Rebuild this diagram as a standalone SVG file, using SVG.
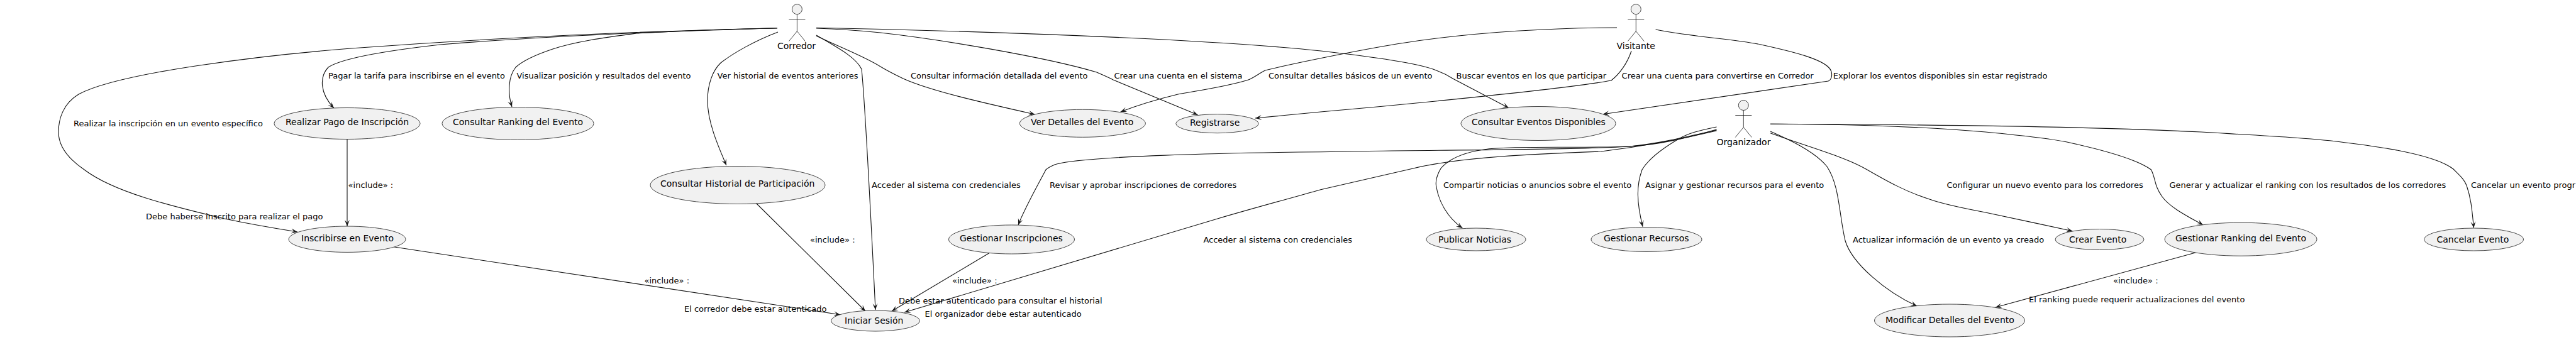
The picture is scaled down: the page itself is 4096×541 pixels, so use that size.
<svg xmlns="http://www.w3.org/2000/svg" width="4096" height="541" viewBox="0 0 4096 541">
<style>
text{font-family:"DejaVu Sans",sans-serif;fill:#000}
.n{font-size:14px}
.l{font-size:13px}
ellipse,.h{fill:#F1F1F1;stroke:#181818;stroke-width:.8}
.a{fill:none;stroke:#181818;stroke-width:.8}
#edges path{fill:none;stroke:#111;stroke-width:1.1;marker-end:url(#arr)}
</style>
<defs>
<marker id="arr" markerUnits="userSpaceOnUse" viewBox="-11 -5 12 10" refX="0" refY="0" markerWidth="12" markerHeight="10" orient="auto"><path d="M0,0L-10,-4L-5.5,0L-10,4Z" fill="#181818"/></marker>
<g id="stick"><circle class="h" cx="0" cy="0" r="8"/><path class="a" d="M0,8V35M-13,16H13M0,35L-13,51M0,35L13,51"/></g>
</defs>
<rect width="4096" height="541" fill="#fff"/>
<g id="edges">
<path d="M1236,44.7C1000,50 760,62 558,77C420,88 190,115 125,150C100,165 93,190 93,210C93,235 112,255 134,270C180,305 268,327 357,348C395,356 435,363 473,369"/>
<path d="M1236,44.7C1050,50 860,58 700,71C620,80 545,92 522,107C508,122 508,148 531,172"/>
<path d="M1236,44.7C1160,46 1100,48 1012,53C960,60 915,66 879,78C855,86 832,96 820,107C808,122 807,148 814,170"/>
<path d="M1237,51C1200,65 1165,85 1146,100C1133,112 1125,135 1125,160C1125,195 1143,235 1155,263"/>
<path d="M1298,56C1330,75 1360,90 1370,110C1376,170 1385,350 1392,493"/>
<path d="M1298,57C1335,75 1375,90 1400,106C1415,115 1422,118 1436,125C1480,145 1570,165 1645.5,182"/>
<path d="M1298,45C1330,46 1360,48 1400,52C1490,62 1660,90 1744,115C1755,120 1760,122 1770,127L1904.5,182.7"/>
<path d="M1298,44.3C1500,48 1900,60 2100,81C2180,90 2250,100 2278.6,110C2290,115 2295,115 2310,125L2399,171.7"/>
<path d="M2571,44C2480,44 2350,50 2234,68C2180,76 2060,100 2011.6,112C2000,118 1995,123 1985,127C1950,138 1900,145 1873,150C1840,158 1810,167 1781.7,178"/>
<path d="M2594,81C2588,100 2575,118 2562,128C2500,140 2250,165 2100,178L1996,188"/>
<path d="M2632.6,47C2700,60 2760,62 2800,71C2850,82 2905,95 2911.6,113C2914,120 2912,127 2907,129L2548.7,181.7"/>
<path d="M2729.5,207C2680,218 2640,228 2591,233C2480,240 2250,238 2100,241.7C1960,243 1720,248 1677,262C1668,266 1665,268 1663,270C1650,295 1630,330 1619,358"/>
<path d="M2729.5,208C2680,220 2620,232 2546,241C2440,245 2320,250 2247,268L2100,301.7C2050,316 1990,332 1936,348L1438,497"/>
<path d="M2729.5,206C2680,220 2640,230 2591,233C2520,236 2420,232 2368,236.7C2340,240 2308,248 2291,268C2284,280 2282,290 2284,298C2288,320 2300,345 2325.4,363"/>
<path d="M2729.5,202C2700,208 2685,212 2671,220C2640,238 2620,255 2611,270C2602,295 2602,320 2612,360.7"/>
<path d="M2815,209C2840,220 2885,240 2905,265C2925,295 2924,340 2934,383C2945,420 3000,465 3048,487"/>
<path d="M2815,211.7C2870,232 2930,248 2967,269C3000,288 3030,305 3068,317C3090,325 3120,331 3157,338C3200,347 3250,358 3295.5,367.7"/>
<path d="M2815,197.3C2900,197 3040,200 3157,210C3210,215 3260,220 3291,227C3350,240 3400,255 3420.5,270C3428,285 3425,295 3438,313C3450,330 3480,345 3503,358"/>
<path d="M2815,197.3C3000,198 3300,200 3500,210C3600,216 3680,220 3728,226.7C3780,233 3870,245 3901,269C3910,278 3918,285 3922,295C3930,318 3931,340 3933.5,362.7"/>
<path d="M552,221V360"/>
<path d="M627,393L1336,500.7"/>
<path d="M1202,323L1376,495"/>
<path d="M1574,402L1418,495"/>
<path d="M3491,402L3173,489"/>
</g>
<g id="labels" class="l">
<text x="117" y="201">Realizar la inscripción en un evento específico</text>
<text x="522" y="125">Pagar la tarifa para inscribirse en el evento</text>
<text x="821.5" y="125">Visualizar posición y resultados del evento</text>
<text x="1140.6" y="125">Ver historial de eventos anteriores</text>
<text x="1448" y="125">Consultar información detallada del evento</text>
<text x="1771.4" y="125">Crear una cuenta en el sistema</text>
<text x="2017" y="125">Consultar detalles básicos de un evento</text>
<text x="2315.6" y="125">Buscar eventos en los que participar</text>
<text x="2578.6" y="125">Crear una cuenta para convertirse en Corredor</text>
<text x="2914.7" y="125">Explorar los eventos disponibles sin estar registrado</text>
<text x="232" y="349">Debe haberse inscrito para realizar el pago</text>
<text x="553.6" y="299">«include» :</text>
<text x="1386" y="299">Acceder al sistema con credenciales</text>
<text x="1669" y="299">Revisar y aprobar inscripciones de corredores</text>
<text x="2295" y="299">Compartir noticias o anuncios sobre el evento</text>
<text x="2616" y="299">Asignar y gestionar recursos para el evento</text>
<text x="3095.5" y="299">Configurar un nuevo evento para los corredores</text>
<text x="3449.5" y="299">Generar y actualizar el ranking con los resultados de los corredores</text>
<text x="3929" y="299">Cancelar un evento progr</text>
<text x="1288" y="386">«include» :</text>
<text x="1913.4" y="386">Acceder al sistema con credenciales</text>
<text x="2946" y="386">Actualizar información de un evento ya creado</text>
<text x="1024.5" y="451">«include» :</text>
<text x="1514" y="451">«include» :</text>
<text x="3360" y="451">«include» :</text>
<text x="1429" y="483">Debe estar autenticado para consultar el historial</text>
<text x="3226" y="481">El ranking puede requerir actualizaciones del evento</text>
<text x="1088" y="495.7">El corredor debe estar autenticado</text>
<text x="1470.5" y="504">El organizador debe estar autenticado</text>
</g>
<g id="actor-corredor"><use href="#stick" x="1267.4" y="14.7"/><text class="n" x="1236" y="78">Corredor</text></g>
<g id="actor-visitante"><use href="#stick" x="2601.3" y="14.7"/><text class="n" x="2570.5" y="78">Visitante</text></g>
<g id="actor-organizador"><use href="#stick" x="2772.3" y="167.5"/><text class="n" x="2729.5" y="231">Organizador</text></g>
<g id="uc-pago"><ellipse cx="552" cy="196.5" rx="116" ry="25"/><text class="n" x="454" y="199">Realizar Pago de Inscripción</text></g>
<g id="uc-ranking"><ellipse cx="823.5" cy="196.5" rx="120.5" ry="26"/><text class="n" x="720" y="199">Consultar Ranking del Evento</text></g>
<g id="uc-detalles"><ellipse cx="1721.4" cy="196.3" rx="100" ry="22"/><text class="n" x="1639" y="199">Ver Detalles del Evento</text></g>
<g id="uc-registrarse"><ellipse cx="1935.5" cy="196.7" rx="65.7" ry="15"/><text class="n" x="1892" y="200">Registrarse</text></g>
<g id="uc-disponibles"><ellipse cx="2446" cy="196.5" rx="123" ry="27"/><text class="n" x="2340" y="199">Consultar Eventos Disponibles</text></g>
<g id="uc-historial"><ellipse cx="1173" cy="294.5" rx="139" ry="30"/><text class="n" x="1050" y="297">Consultar Historial de Participación</text></g>
<g id="uc-inscribirse"><ellipse cx="552" cy="380.7" rx="93" ry="20.7"/><text class="n" x="479" y="384">Inscribirse en Evento</text></g>
<g id="uc-inscripciones"><ellipse cx="1608.5" cy="381" rx="100" ry="23"/><text class="n" x="1526" y="384">Gestionar Inscripciones</text></g>
<g id="uc-noticias"><ellipse cx="2347" cy="381" rx="79" ry="18"/><text class="n" x="2287" y="386">Publicar Noticias</text></g>
<g id="uc-recursos"><ellipse cx="2618" cy="381" rx="88" ry="19.5"/><text class="n" x="2550" y="384">Gestionar Recursos</text></g>
<g id="uc-crear"><ellipse cx="3338.5" cy="381" rx="70.5" ry="16.5"/><text class="n" x="3290" y="386">Crear Evento</text></g>
<g id="uc-gest-ranking"><ellipse cx="3563" cy="380.7" rx="121" ry="26.5"/><text class="n" x="3459" y="384">Gestionar Ranking del Evento</text></g>
<g id="uc-cancelar"><ellipse cx="3933.5" cy="381" rx="79" ry="18"/><text class="n" x="3874.5" y="386">Cancelar Evento</text></g>
<g id="uc-sesion"><ellipse cx="1392" cy="510.5" rx="70.5" ry="16.5"/><text class="n" x="1343" y="515">Iniciar Sesión</text></g>
<g id="uc-modificar"><ellipse cx="3100" cy="510" rx="119.5" ry="26"/><text class="n" x="2998" y="514">Modificar Detalles del Evento</text></g>
</svg>
